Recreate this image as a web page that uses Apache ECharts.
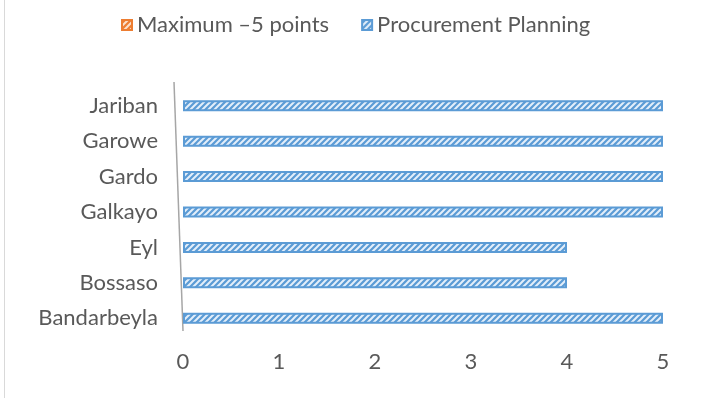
<!DOCTYPE html>
<html>
<head>
<meta charset="utf-8">
<script src="https://cdn.jsdelivr.net/npm/echarts@6/dist/echarts.min.js"></script>
<style>
  html, body { margin: 0; padding: 0; background: #fff; }
  #frame { position: absolute; left: 4px; top: 0; width: 1px; height: 398px; background: #d9d9d9; }
  #chart { width: 708px; height: 398px; }
</style>
</head>
<body>
<div id="chart"></div>
<div id="frame"></div>
<script>
// Districts, listed bottom to top as the category axis draws them
const districts = ['Bandarbeyla', 'Bossaso', 'Eyl', 'Galkayo', 'Gardo', 'Garowe', 'Jariban'];
// Procurement planning score per district (out of 5)
const procurementPlanning = [5, 4, 4, 5, 5, 5, 5];
// Maximum series has no drawn bars
const maximumPoints = [null, null, null, null, null, null, null];
const xTicks = [0, 1, 2, 3, 4, 5];

// Diagonal hatch fill
function hatch(base, stripe) {
  const c = document.createElement('canvas');
  c.width = 6; c.height = 6;
  const g = c.getContext('2d');
  g.fillStyle = base;
  g.fillRect(0, 0, 6, 6);
  g.strokeStyle = stripe;
  g.lineWidth = 2;
  g.beginPath();
  g.moveTo(-1, 7); g.lineTo(7, -1);
  g.moveTo(5, 7); g.lineTo(13, -1);
  g.moveTo(-7, 7); g.lineTo(1, -1);
  g.stroke();
  return { image: c, repeat: 'repeat' };
}

const blueFill = hatch('#5b9bd5', '#e3eefa');
const orangeFill = hatch('#ed7d31', '#fbe0cc');

const chart = echarts.init(document.getElementById('chart'), null, { renderer: 'canvas' });
chart.setOption({
  animation: false,
  textStyle: { fontFamily: 'Lato', color: '#595959' },
  legend: {
    top: 9,
    left: 116,
    itemWidth: 10,
    itemHeight: 10,
    itemGap: 32,
    icon: 'rect',
    textStyle: { fontSize: 22, color: '#595959', fontFamily: 'Lato' },
    data: ['Maximum –5 points', 'Procurement Planning']
  },
  grid: { left: 183, right: 45, top: 88, bottom: 62 },
  xAxis: {
    type: 'value',
    min: xTicks[0],
    max: xTicks[xTicks.length - 1],
    interval: 1,
    axisLine: { show: false },
    axisTick: { show: false },
    splitLine: { show: false },
    axisLabel: { fontSize: 22, color: '#595959', margin: 15, fontFamily: 'Lato' }
  },
  yAxis: {
    type: 'category',
    data: districts,
    axisLine: { show: false },
    axisTick: { show: false },
    axisLabel: { fontSize: 22, color: '#595959', margin: 25, fontFamily: 'Lato' }
  },
  graphic: [{
    type: 'line',
    shape: { x1: 174, y1: 82, x2: 183, y2: 331 },
    style: { stroke: '#a6a6a6', lineWidth: 1.5 },
    silent: true
  }],
  series: [
    {
      name: 'Maximum –5 points',
      type: 'bar',
      data: maximumPoints,
      barWidth: 11,
      barGap: '-100%',
      itemStyle: { color: orangeFill, borderColor: '#ed7d31', borderWidth: 1 }
    },
    {
      name: 'Procurement Planning',
      type: 'bar',
      data: procurementPlanning,
      barWidth: 11,
      itemStyle: { color: blueFill, borderColor: '#5b9bd5', borderWidth: 2 }
    }
  ]
});
</script>
</body>
</html>
